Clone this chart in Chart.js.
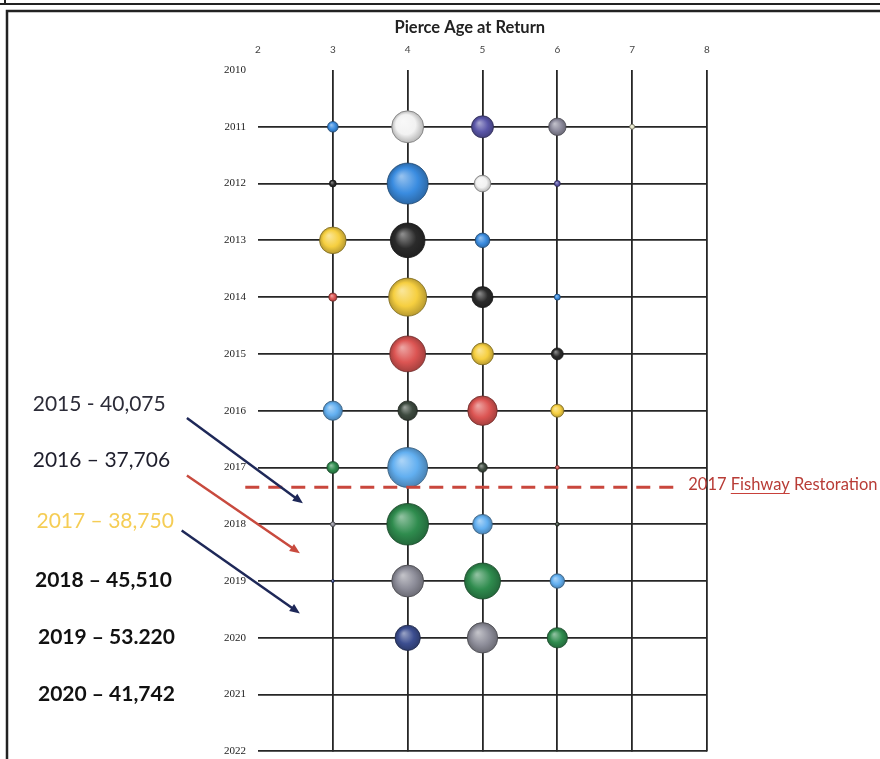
<!DOCTYPE html>
<html>
<head>
<meta charset="utf-8">
<script src="https://cdn.jsdelivr.net/npm/chart.js@4.4.1/dist/chart.umd.min.js"></script>
<style>
  html, body { margin: 0; padding: 0; background: #fff; overflow: hidden; }
  #wrap { width: 880px; height: 759px; overflow: hidden; }
  #c { display: block; }
</style>
</head>
<body>
<div id="wrap"><canvas id="c" width="880" height="773"></canvas></div>
<script>
// Returns by return year (rows) and age at return (columns)
const returnYears = [2011, 2012, 2013, 2014, 2015, 2016, 2017, 2018, 2019, 2020]
const ageTicks = [2, 3, 4, 5, 6, 7, 8]
const age3 = [2400, 1000, 14900, 1350, 0, 7800, 3000, 500, 200, 0]
const age4 = [21500, 35400, 25200, 30400, 27000, 8000, 33500, 36500, 21400, 13500]
const age5 = [10200, 5800, 4500, 9300, 10100, 18300, 1900, 8200, 27200, 19500]
const age6 = [6400, 760, 0, 760, 2975, 3600, 350, 310, 4420, 8700]
const age7 = [530, 0, 0, 0, 0, 0, 0, 0, 0, 0]

// one colour per brood year (return year - age)
const broodYears = [2004, 2005, 2006, 2007, 2008, 2009, 2010, 2011, 2012, 2013, 2014, 2015, 2016]
const broodColors = ['#e6e6c8', '#8c8a9c', '#5a56a8', '#f2f2f2', '#3a8ce0', '#2b2b2b', '#f6cf40',
  '#dc5553', '#3e4b40', '#62aff0', '#2f8c4e', '#8e8e9a', '#3c4e90']

// notes written beside the chart
const runTotals = ['2015 - 40,075', '2016 \u2013 37,706', '2017 \u2013 38,750', '2018 \u2013 45,510', '2019 \u2013 53.220', '2020 \u2013 41,742']
const restorationLabel = '2017 Fishway Restoration'

const RSCALE = 0.109   // pixel radius per sqrt(fish)

const byAge = { 3: age3, 4: age4, 5: age5, 6: age6, 7: age7 }

const datasets = broodYears.map((by, i) => {
  const pts = []
  returnYears.forEach((ry, j) => {
    const age = ry - by
    const col = byAge[age]
    if (col && col[j] > 0) {
      pts.push({ x: age, y: ry, r: RSCALE * Math.sqrt(col[j]) })
    }
  })
  return { label: 'BY ' + by, data: pts, baseColor: broodColors[i] }
})

function shade(hex, amt) {
  const n = parseInt(hex.slice(1), 16)
  let r = n >> 16, g = (n >> 8) & 255, b = n & 255
  if (amt >= 0) {
    r += (255 - r) * amt; g += (255 - g) * amt; b += (255 - b) * amt
  } else {
    r *= 1 + amt; g *= 1 + amt; b *= 1 + amt
  }
  return `rgb(${Math.round(r)}, ${Math.round(g)}, ${Math.round(b)})`
}

function sphere(ctx) {
  const base = ctx.dataset.baseColor
  const chart = ctx.chart
  if (ctx.type !== 'data' || !chart.chartArea) return base
  const cx = chart.scales.x.getPixelForValue(ctx.raw.x)
  const cy = chart.scales.y.getPixelForValue(ctx.raw.y)
  const r = Math.max(ctx.raw.r, 1)
  const g = chart.ctx.createRadialGradient(cx - r * 0.3, cy - r * 0.35, r * 0.05, cx, cy, r)
  g.addColorStop(0, shade(base, 0.45))
  g.addColorStop(0.6, base)
  g.addColorStop(1, shade(base, -0.25))
  return g
}

function arrow(c, x1, y1, x2, y2, color) {
  const ang = Math.atan2(y2 - y1, x2 - x1)
  const hl = 11
  c.strokeStyle = color
  c.fillStyle = color
  c.lineWidth = 2.5
  c.beginPath()
  c.moveTo(x1, y1)
  c.lineTo(x2 - hl * 0.7 * Math.cos(ang), y2 - hl * 0.7 * Math.sin(ang))
  c.stroke()
  c.beginPath()
  c.moveTo(x2, y2)
  c.lineTo(x2 - hl * Math.cos(ang - 0.4), y2 - hl * Math.sin(ang - 0.4))
  c.lineTo(x2 - hl * Math.cos(ang + 0.4), y2 - hl * Math.sin(ang + 0.4))
  c.closePath()
  c.fill()
}

const notesPlugin = {
  id: 'notes',
  beforeDraw(chart) {
    const c = chart.ctx
    c.save()
    c.strokeStyle = '#222'
    c.lineWidth = 2
    c.beginPath()
    c.moveTo(0, 4); c.lineTo(880, 4)
    c.moveTo(5, 0); c.lineTo(5, 4)
    c.stroke()
    c.lineWidth = 2.5
    c.beginPath()
    c.moveTo(7, 773); c.lineTo(7, 11); c.lineTo(880, 11)
    c.stroke()
    c.restore()
  },
  afterDatasetsDraw(chart) {
    const c = chart.ctx
    const xs = chart.scales.x, ys = chart.scales.y
    const px = v => xs.getPixelForValue(v)
    const py = v => ys.getPixelForValue(v)
    c.save()

    // title
    c.fillStyle = '#222'
    c.font = 'bold 16.5px Lato'
    c.textAlign = 'center'
    c.textBaseline = 'middle'
    c.fillText('Pierce Age at Return', px(4.83), py(2009.26))

    // restoration line
    c.strokeStyle = '#c9473d'
    c.lineWidth = 3
    c.setLineDash([14, 9])
    c.beginPath()
    c.moveTo(px(1.83), py(2017.35))
    c.lineTo(px(7.64), py(2017.35))
    c.stroke()
    c.setLineDash([])
    c.fillStyle = '#b83c36'
    c.font = '16.5px Lato'
    c.textAlign = 'left'
    const lx = px(7.75), ly = py(2017.3)
    c.fillText(restorationLabel, lx, ly)
    // spell-check style underline under "Fishway"
    const pre = c.measureText('2017 ').width
    const fw = c.measureText('Fishway').width
    c.strokeStyle = '#c8403a'
    c.lineWidth = 1
    c.beginPath()
    c.moveTo(lx + pre, ly + 9)
    c.lineTo(lx + pre + fw, ly + 9)
    c.stroke()

    // arrows
    arrow(c, px(1.05), py(2016.13), px(2.6), py(2017.63), '#1e2858')
    arrow(c, px(1.05), py(2017.14), px(2.56), py(2018.51), '#c84a3e')
    arrow(c, px(0.98), py(2018.11), px(2.56), py(2019.57), '#1e2858')

    // run totals
    const tx = [-1.01, -1.01, -0.96, -0.98, -0.94, -0.94]
    const ty = [2015.885, 2016.87, 2017.95, 2018.99, 2019.99, 2021.0]
    const tc = ['#2c2c38', '#1e1e2c', '#f5cd55', '#111', '#111', '#111']
    const tw = ['normal', 'normal', 'normal', 'bold', 'bold', 'bold']
    runTotals.forEach((t, i) => {
      c.fillStyle = tc[i]
      c.font = tw[i] + ' 21px Lato'
      c.fillText(t, px(tx[i]), py(ty[i]))
    })
    c.restore()
  }
}

new Chart(document.getElementById('c'), {
  type: 'bubble',
  data: { datasets },
  plugins: [notesPlugin],
  options: {
    responsive: false,
    animation: false,
    events: [],
    layout: { padding: { top: 40, right: 173, bottom: 8, left: 0 } },
    elements: {
      point: {
        backgroundColor: sphere,
        borderColor: ctx => shade(ctx.dataset.baseColor, -0.5),
        borderWidth: 0.8
      }
    },
    plugins: {
      legend: { display: false },
      tooltip: { enabled: false },
      title: { display: false }
    },
    scales: {
      x: {
        type: 'linear',
        position: 'top',
        min: ageTicks[0],
        max: ageTicks[ageTicks.length - 1],
        afterBuildTicks: s => { s.ticks = ageTicks.map(v => ({ value: v })) },
        afterFit: s => { s.height = 30 },
        border: { display: false },
        grid: {
          drawTicks: false,
          lineWidth: 1.8,
          color: ctx => ctx.tick && ctx.tick.value === ageTicks[0] ? 'rgba(0,0,0,0)' : '#262626'
        },
        ticks: {
          padding: 14,
          color: '#444',
          font: { family: 'Lato', size: 10 }
        }
      },
      y: {
        type: 'linear',
        reverse: true,
        min: 2010,
        max: 2022,
        afterFit: s => {
          s.width = 258
          s.paddingTop = 0
          s.paddingBottom = 0
        },
        border: { display: false },
        grid: {
          drawTicks: false,
          lineWidth: 1.8,
          color: ctx => ctx.tick && ctx.tick.value === 2010 ? 'rgba(0,0,0,0)' : '#262626'
        },
        ticks: {
          stepSize: 1,
          padding: 12,
          color: '#222',
          font: { family: 'Liberation Serif', size: 11 },
          callback: v => String(v)
        }
      }
    }
  }
})
</script>
</body>
</html>
